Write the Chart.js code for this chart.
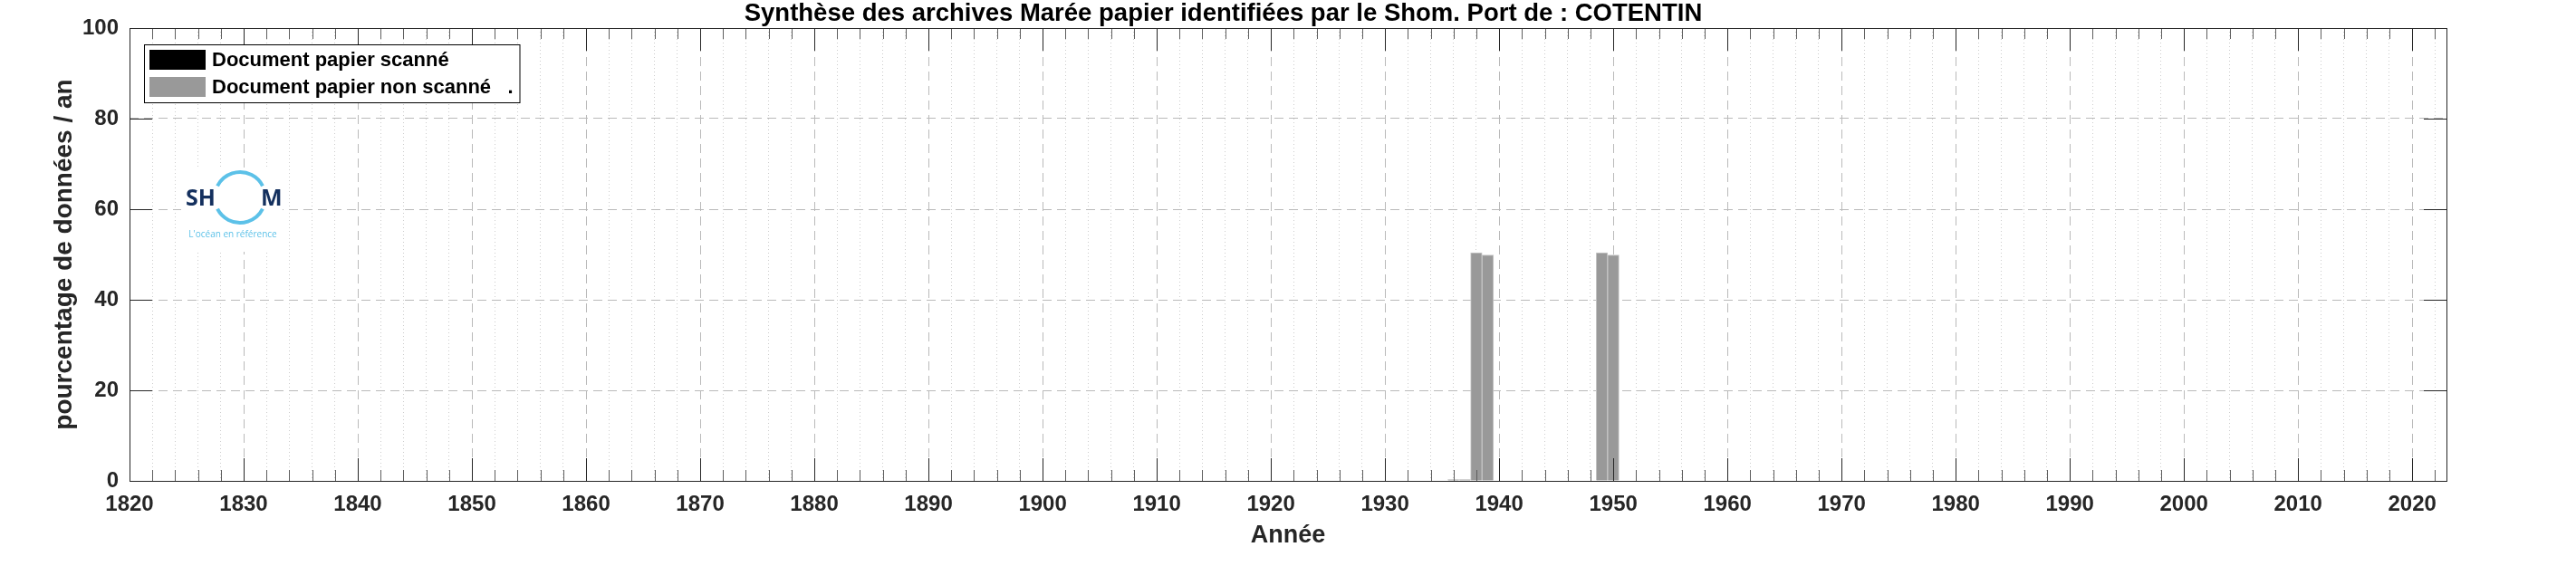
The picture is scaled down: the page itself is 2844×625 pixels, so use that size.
<!DOCTYPE html>
<html>
<head>
<meta charset="utf-8">
<script src="https://cdn.jsdelivr.net/npm/chart.js@4.4.0/dist/chart.umd.min.js"></script>
<style>
    html, body { margin: 0; padding: 0; background: #ffffff; }
    #wrap { width: 2844px; height: 625px; }
</style>
</head>
<body>
<div id="wrap"><canvas id="myChart" width="2844" height="625"></canvas></div>
<script>
// données (pourcentage de données par an)
var years_scanned = [];
var values_scanned = [];
var years_nonScanned = [1936, 1937, 1938, 1939, 1949, 1950];
var values_nonScanned = [0.3, 0.3, 50.4, 49.9, 50.4, 49.9];
var seriesLabels = ['Document papier scanné', 'Document papier non scanné   .'];
var xMin = 1820, xMax = 2023, xStep = 2;
var yMin = 0, yMax = 100, yStep = 20;

var FONT = 'Liberation Sans';
Chart.defaults.font.family = FONT;

function toPoints(xs, ys) {
    var pts = [];
    for (var i = 0; i < xs.length; i++) {
        pts.push({ x: xs[i], y: ys[i] });
    }
    return pts;
}

// logo Shom (au-dessus de la grille, sous les barres)
var shomLogo = {
    id: 'shomLogo',
    beforeDatasetsDraw: function (chart) {
        var ctx = chart.ctx;
        ctx.save();
        ctx.fillStyle = '#ffffff';
        ctx.fillRect(200, 186, 112, 92);
        ctx.strokeStyle = '#5cc1e8';
        ctx.lineWidth = 4;
        ctx.beginPath();
        ctx.arc(265, 218, 28, -Math.PI * 0.85, -Math.PI * 0.15);
        ctx.stroke();
        ctx.beginPath();
        ctx.arc(265, 218, 28, Math.PI * 0.15, Math.PI * 0.85);
        ctx.stroke();
        ctx.fillStyle = '#14305e';
        ctx.font = 'bold 25px "Open Sans"';
        ctx.textBaseline = 'alphabetic';
        ctx.textAlign = 'right';
        ctx.fillText('SH', 238, 227);
        ctx.textAlign = 'left';
        ctx.fillText('M', 288, 227);
        ctx.fillStyle = '#5cc1e8';
        ctx.font = '10px "Open Sans"';
        ctx.textAlign = 'center';
        ctx.fillText("L'océan en référence", 257, 262);
        ctx.restore();
    }
};

// cadre + graduations vers l'intérieur (style MATLAB)
var axesFrame = {
    id: 'axesFrame',
    afterDatasetsDraw: function (chart) {
        var ctx = chart.ctx, a = chart.chartArea;
        var xs = chart.scales.x, ys = chart.scales.y;
        ctx.save();
        ctx.lineWidth = 1;
        xs.ticks.forEach(function (t) {
            var v = t.value;
            if (v === xMin) return;
            var px = Math.round(xs.getPixelForValue(v)) + 0.5;
            var major = v % 10 === 0;
            var len = major ? 25 : 12;
            ctx.strokeStyle = major ? '#262626' : '#5e5e5e';
            ctx.beginPath();
            ctx.moveTo(px, a.bottom);
            ctx.lineTo(px, a.bottom - len);
            ctx.moveTo(px, a.top);
            ctx.lineTo(px, a.top + len);
            ctx.stroke();
        });
        ys.ticks.forEach(function (t) {
            var v = t.value;
            if (v === yMin || v === yMax) return;
            var py = Math.round(ys.getPixelForValue(v)) + 0.5;
            ctx.strokeStyle = '#262626';
            ctx.beginPath();
            ctx.moveTo(a.left, py);
            ctx.lineTo(a.left + 25, py);
            ctx.moveTo(a.right, py);
            ctx.lineTo(a.right - 25, py);
            ctx.stroke();
        });
        ctx.strokeStyle = '#262626';
        ctx.strokeRect(Math.round(a.left) + 0.5, Math.round(a.top) + 0.5,
            Math.round(a.right - a.left), Math.round(a.bottom - a.top));
        ctx.restore();
    }
};

// légende encadrée dans le coin haut gauche
var boxLegend = {
    id: 'boxLegend',
    afterDraw: function (chart) {
        var ctx = chart.ctx;
        var ds = chart.data.datasets;
        var bx = 159, by = 49, rowH = 30, textX = 234;
        ctx.save();
        ctx.font = 'bold 22px "' + FONT + '"';
        var maxW = 0;
        ds.forEach(function (d) { maxW = Math.max(maxW, ctx.measureText(d.label).width); });
        var bw = textX - bx + maxW + 7;
        var bh = 64;
        ctx.fillStyle = '#ffffff';
        ctx.fillRect(bx, by, bw, bh);
        ctx.strokeStyle = '#000000';
        ctx.lineWidth = 1;
        ctx.strokeRect(bx + 0.5, by + 0.5, bw, bh);
        ds.forEach(function (d, i) {
            var y = by + 6 + i * rowH;
            ctx.fillStyle = d.backgroundColor;
            ctx.fillRect(bx + 6, y, 62, 22);
            ctx.fillStyle = '#000000';
            ctx.textBaseline = 'middle';
            ctx.textAlign = 'left';
            ctx.fillText(d.label, textX, y + 12);
        });
        ctx.restore();
    }
};

var ctx = document.getElementById('myChart').getContext('2d');
var myChart = new Chart(ctx, {
    type: 'bar',
    data: {
        datasets: [{
            label: seriesLabels[0],
            data: toPoints(years_scanned, values_scanned),
            backgroundColor: '#000000',
            borderWidth: 0,
            grouped: false,
            barPercentage: 1,
            categoryPercentage: 1
        }, {
            label: seriesLabels[1],
            data: toPoints(years_nonScanned, values_nonScanned),
            backgroundColor: '#999999',
            borderColor: '#c6c6c6',
            borderWidth: 1,
            grouped: false,
            barPercentage: 1,
            categoryPercentage: 1
        }]
    },
    options: {
        responsive: false,
        animation: false,
        devicePixelRatio: 1,
        layout: { padding: { left: 0, right: 143, top: 0, bottom: 0 } },
        scales: {
            x: {
                type: 'linear',
                min: xMin,
                max: xMax,
                offset: false,
                afterFit: function (s) { s.height = 94; },
                ticks: {
                    stepSize: xStep,
                    includeBounds: false,
                    autoSkip: false,
                    maxRotation: 0,
                    padding: 12,
                    color: '#262626',
                    font: { size: 24, weight: 'bold' },
                    callback: function (value) {
                        return value % 10 === 0 ? String(value) : '';
                    }
                },
                grid: {
                    offset: false,
                    drawTicks: false,
                    lineWidth: 1,
                    color: function (c) {
                        var v = c.tick ? c.tick.value : null;
                        if (v === xMin) return 'rgba(0,0,0,0)';
                        return v % 10 === 0 ? '#bababa' : '#cdcdcd';
                    }
                },
                border: {
                    display: false,
                    dash: function (c) {
                        return (c.tick && c.tick.value % 10 === 0) ? [10, 6] : [1, 3];
                    }
                },
                title: {
                    display: true,
                    text: 'Année',
                    color: '#262626',
                    font: { size: 27, weight: 'bold' },
                    padding: { top: 0, bottom: 17 }
                }
            },
            y: {
                min: yMin,
                max: yMax,
                afterFit: function (s) { s.width = 143; },
                ticks: {
                    stepSize: yStep,
                    padding: 12,
                    color: '#262626',
                    font: { size: 24, weight: 'bold' }
                },
                grid: {
                    drawTicks: false,
                    lineWidth: 1,
                    color: function (c) {
                        var v = c.tick ? c.tick.value : null;
                        return (v === yMin || v === yMax) ? 'rgba(0,0,0,0)' : '#bababa';
                    }
                },
                border: { display: false, dash: [10, 6] },
                title: {
                    display: true,
                    text: 'pourcentage de données / an',
                    color: '#262626',
                    font: { size: 28, weight: 'bold' },
                    padding: { top: 54, bottom: 0 }
                }
            }
        },
        plugins: {
            legend: { display: false },
            tooltip: { enabled: false },
            title: {
                display: true,
                text: 'Synthèse des archives Marée papier identifiées par le Shom. Port de : COTENTIN',
                color: '#000000',
                font: { size: 27.5, weight: 'bold', lineHeight: '31px' },
                padding: 0
            }
        }
    },
    plugins: [shomLogo, axesFrame, boxLegend]
});
</script>
</body>
</html>
